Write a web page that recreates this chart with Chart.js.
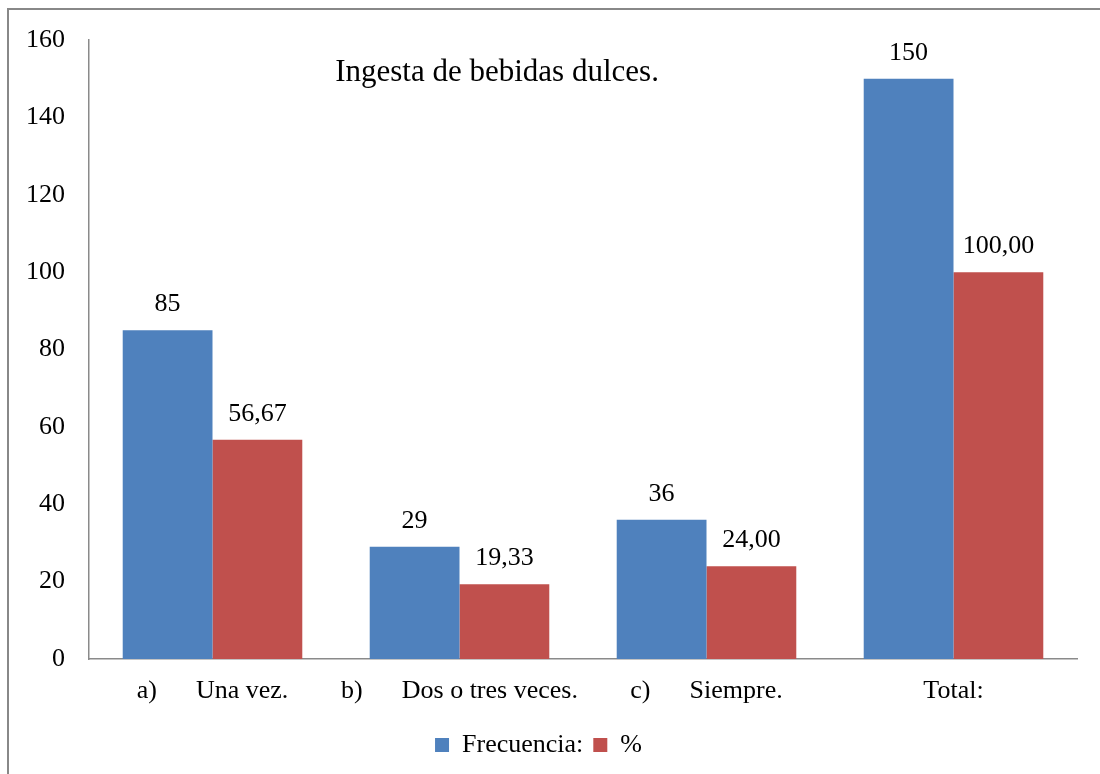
<!DOCTYPE html>
<html>
<head>
<meta charset="utf-8">
<script src="https://cdn.jsdelivr.net/npm/chart.js@4"></script>
<style>
    body { margin: 0; background: #fff; overflow: hidden; }
    #wrap { position: relative; width: 1100px; height: 774px; }
    #marco { position: absolute; left: 7px; top: 8px; width: 1200px; height: 900px; border: 2px solid #888; }
    canvas { position: absolute; left: 0; top: 0; }
</style>
</head>
<body>
<div id="wrap">
    <div id="marco"></div>
    <canvas id="grafico" width="1100" height="774"></canvas>
</div>
<script>
const categorias = ['a)      Una vez.', 'b)      Dos o tres veces.', 'c)      Siempre.', 'Total:']
const frecuencia = [85, 29, 36, 150]
const porcentaje = [56.67, 19.33, 24.00, 100.00]
const titulo = 'Ingesta de bebidas dulces.'

const fuente = 'Liberation Serif, Times New Roman, serif'

// etiquetas de valor encima de cada barra
const etiquetas = {
    id: 'etiquetas',
    afterDatasetsDraw(chart) {
        const ctx = chart.ctx
        ctx.save()
        ctx.font = '26px ' + fuente
        ctx.fillStyle = '#000'
        ctx.textAlign = 'center'
        ctx.textBaseline = 'middle'
        chart.data.datasets.forEach((ds, i) => {
            const meta = chart.getDatasetMeta(i)
            meta.data.forEach((bar, j) => {
                let v = ds.data[j]
                let txt = i == 0 ? String(v) : v.toFixed(2).replace('.', ',')
                ctx.fillText(txt, bar.x, bar.y - 26)
            })
        })
        ctx.restore()
    }
}

// titulo dentro del area del grafico
const tituloInterno = {
    id: 'tituloInterno',
    afterDraw(chart) {
        const a = chart.chartArea
        const ctx = chart.ctx
        ctx.save()
        ctx.font = '31px ' + fuente
        ctx.fillStyle = '#000'
        ctx.textAlign = 'center'
        ctx.textBaseline = 'middle'
        ctx.fillText(titulo, a.left + (a.right - a.left) * 0.413, a.top + 33)
        ctx.restore()
    }
}

let ctx = document.getElementById('grafico').getContext('2d')

const miGrafico = new Chart(ctx, {
    type: 'bar',
    data: {
        labels: categorias,
        datasets: [{
            label: 'Frecuencia:',
            data: frecuencia,
            backgroundColor: '#4F81BD',
            borderWidth: 0
        }, {
            label: '%',
            data: porcentaje,
            backgroundColor: '#C0504D',
            borderWidth: 0
        }]
    },
    options: {
        responsive: false,
        animation: false,
        layout: {
            padding: { left: 0, right: 23, top: 40, bottom: 6 }
        },
        datasets: {
            bar: {
                categoryPercentage: 0.727,
                barPercentage: 1
            }
        },
        scales: {
            x: {
                grid: { display: false, drawTicks: false },
                border: { display: true, color: '#8a8a8a', width: 1.5 },
                ticks: {
                    color: '#000',
                    padding: 17,
                    maxRotation: 0,
                    autoSkip: false,
                    font: { family: fuente, size: 26 }
                },
                afterFit(scale) { scale.height = 63 }
            },
            y: {
                min: 0,
                max: 160,
                grid: { display: false, drawTicks: false },
                border: { display: true, color: '#8a8a8a', width: 1.5 },
                ticks: {
                    stepSize: 20,
                    color: '#000',
                    padding: 24,
                    font: { family: fuente, size: 26 }
                },
                afterFit(scale) { scale.width = 89 }
            }
        },
        plugins: {
            legend: {
                position: 'bottom',
                labels: {
                    boxWidth: 14,
                    boxHeight: 14,
                    padding: 10,
                    color: '#000',
                    font: { family: fuente, size: 26 }
                }
            },
            tooltip: { enabled: false },
            title: { display: false }
        }
    },
    plugins: [etiquetas, tituloInterno]
})
</script>
</body>
</html>
